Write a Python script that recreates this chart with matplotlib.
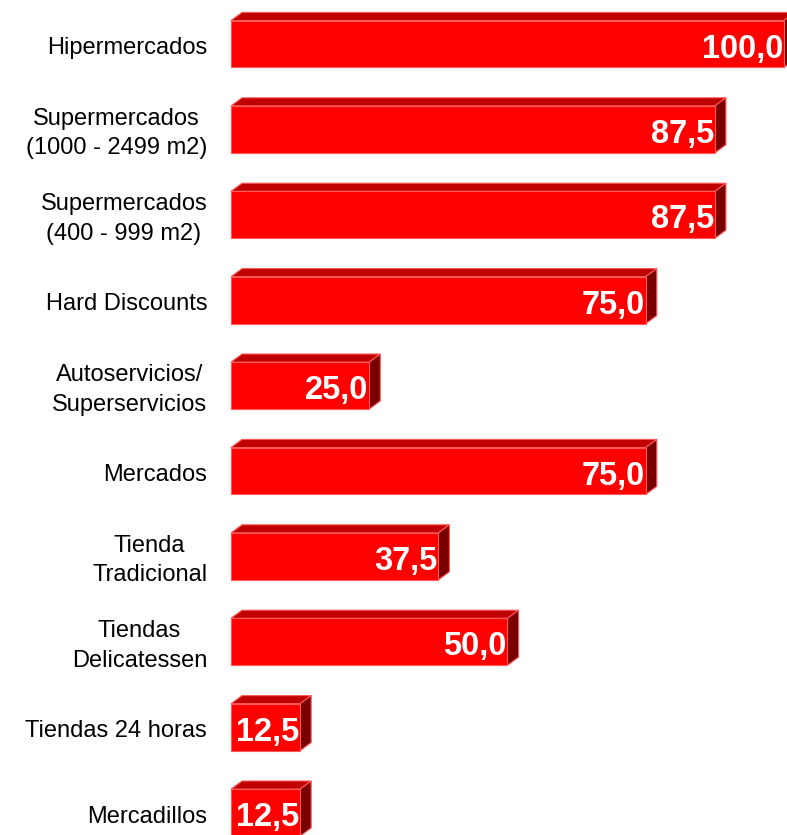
import matplotlib
matplotlib.use("Agg")
import matplotlib.pyplot as plt
from matplotlib.patches import Polygon

plt.rcParams['font.family'] = ['Liberation Sans', 'DejaVu Sans']

categories = ["Hipermercados", "Supermercados\n(1000 - 2499 m2)",
              "Supermercados\n(400 - 999 m2)", "Hard Discounts",
              "Autoservicios/\nSuperservicios", "Mercados",
              "Tienda\nTradicional", "Tiendas\nDelicatessen",
              "Tiendas 24 horas", "Mercadillos"]
values = [100.0, 87.5, 87.5, 75.0, 25.0, 75.0, 37.5, 50.0, 12.5, 12.5]

W, H = 787, 835
fig = plt.figure(figsize=(W / 100, H / 100), dpi=100)
# x: 0 -> 231 px, 100 -> 784 px ; rows ~85.4 px apart, first at 44 px
row = 85.4
ax = fig.add_axes([231 / W, 0, 553 / W, 1])
ax.set_xlim(0, 100)
ax.set_ylim((H - 44) / row, -44 / row)
ax.axis('off')

front = '#ff0000'
top = '#c00000'
side = '#7a0000'
edge = '#ff5a5a'

bh = 0.55
dx = 2.0    # depth in x units
dy = 0.095  # depth in row units

ys = list(range(len(values)))
ax.barh(ys, values, height=bh, color=front, edgecolor=edge, linewidth=0.8,
        zorder=3, clip_on=False)

for y, v in zip(ys, values):
    y0 = y - bh / 2
    y1 = y + bh / 2
    ax.add_patch(Polygon([(0, y0), (v, y0), (v + dx, y0 - dy), (dx, y0 - dy)],
                         closed=True, facecolor=top, edgecolor=edge,
                         linewidth=0.8, zorder=2, clip_on=False))
    ax.add_patch(Polygon([(v, y0), (v + dx, y0 - dy), (v + dx, y1 - dy), (v, y1)],
                         closed=True, facecolor=side, edgecolor=edge,
                         linewidth=0.8, zorder=2, clip_on=False))
    ax.text(v - 0.2, y + 0.06, f"{v:.1f}".replace('.', ','), ha='right',
            va='center', color='white', fontsize=23.5, fontweight='bold',
            zorder=4, clip_on=False)
    ax.text(-4.3, y + 0.05, categories[y], ha='right', va='center',
            multialignment='center', fontsize=17, color='black',
            linespacing=1.45, clip_on=False)

fig.savefig("out.png", dpi=100)
